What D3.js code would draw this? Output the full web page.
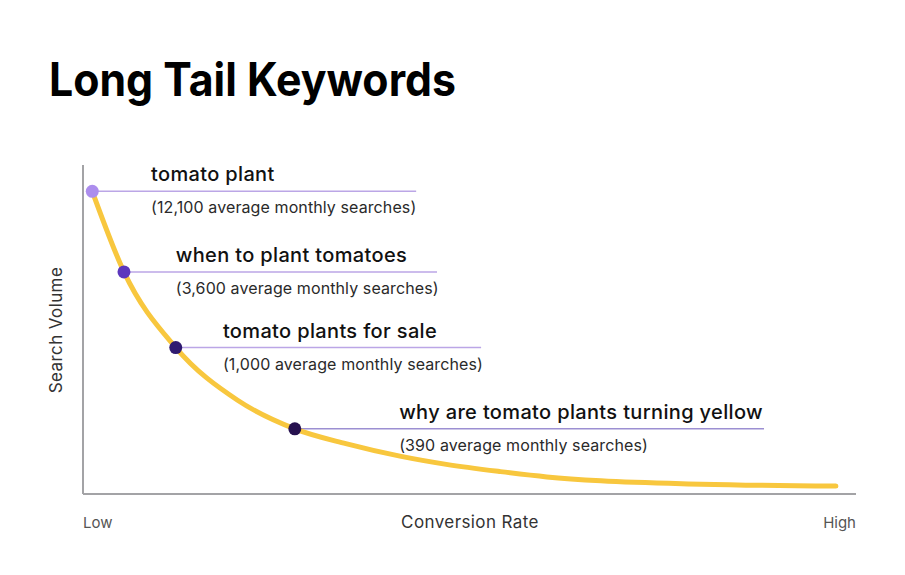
<!DOCTYPE html>
<html>
<head>
<meta charset="utf-8">
<script src="https://cdn.jsdelivr.net/npm/d3@7"></script>
<style>
  body { margin: 0; background: #fff; }
  svg { display: block; font-family: Inter, "Noto Sans", sans-serif; }
</style>
</head>
<body>
<svg id="chart" width="905" height="575"></svg>
<script>
// curve: conversion rate (0-100) vs relative search volume (0-100)
const curveRate = [1.2, 5.3, 12, 20, 27.4, 34, 41, 47, 54, 60, 67, 80, 97.4]
const curveVolume = [92, 67.5, 44.5, 28.5, 19.8, 15.3, 11.5, 9.0, 6.8, 5.2, 4.0, 3.0, 2.4]

// the four highlighted keywords
const keywords = ['tomato plant', 'when to plant tomatoes', 'tomato plants for sale', 'why are tomato plants turning yellow']
const searches = ['12,100', '3,600', '1,000', '390']
const kwRate = [1.2, 5.3, 12, 27.4]
const kwVolume = [92, 67.5, 44.5, 19.8]
const labelStart = [8.8, 12.0, 18.1, 40.9]
const lineEnd = [43.1, 45.8, 51.5, 88.1]
const dotColors = ['#ac8ded', '#5c37bd', '#2f1a70', '#26114f']

const svg = d3.select('#chart')

const xScale = d3.scaleLinear().domain([0, 100]).range([83, 856])
const yScale = d3.scaleLinear().domain([0, 100]).range([494, 165])

// title
svg.append('text').attr('x', 49).attr('y', 96)
    .attr('textLength', 407).attr('lengthAdjust', 'spacingAndGlyphs')
    .style('font-size', '46px').style('font-weight', 700).style('fill', '#000')
    .text('Long Tail Keywords')

// axes (no ticks, just the two lines)
const g = svg.append('g')
g.append('line').attr('x1', xScale(0)).attr('x2', xScale(0)).attr('y1', yScale(100)).attr('y2', yScale(0))
    .style('stroke', '#a3a3a6').style('stroke-width', 2)
g.append('line').attr('x1', xScale(0)).attr('x2', xScale(100)).attr('y1', yScale(0)).attr('y2', yScale(0))
    .style('stroke', '#a3a3a6').style('stroke-width', 2)

svg.append('text').attr('x', xScale(0)).attr('y', 528)
    .style('font-size', '15px').style('fill', '#555').text('Low')
svg.append('text').attr('x', xScale(100)).attr('y', 528).attr('text-anchor', 'end')
    .style('font-size', '15px').style('fill', '#555').text('High')
svg.append('text').attr('x', 470).attr('y', 528).attr('text-anchor', 'middle')
    .style('font-size', '17px').style('letter-spacing', '0.4px').style('fill', '#333').text('Conversion Rate')
svg.append('text').attr('transform', 'translate(62,330) rotate(-90)').attr('text-anchor', 'middle')
    .style('font-size', '17px').style('letter-spacing', '0.4px').style('fill', '#333').text('Search Volume')

// leader lines
g.selectAll('.leader').data(keywords).enter().append('line')
    .attr('class', 'leader')
    .attr('x1', (d, i) => xScale(kwRate[i])).attr('x2', (d, i) => xScale(lineEnd[i]))
    .attr('y1', (d, i) => yScale(kwVolume[i])).attr('y2', (d, i) => yScale(kwVolume[i]))
    .style('stroke', (d, i) => i == 3 ? '#9c8fd2' : '#bba6e6').style('stroke-width', 1.5)

// the long tail curve
const line = d3.line().x(d => xScale(d[0])).y(d => yScale(d[1])).curve(d3.curveMonotoneX)
g.append('path').datum(d3.zip(curveRate, curveVolume))
    .attr('d', line)
    .style('fill', 'none').style('stroke', '#f8c73e').style('stroke-width', 5).style('stroke-linecap', 'round')

// dots
g.selectAll('.dot').data(keywords).enter().append('circle')
    .attr('class', 'dot').attr('r', 6.5)
    .attr('cx', (d, i) => xScale(kwRate[i])).attr('cy', (d, i) => yScale(kwVolume[i]))
    .style('fill', (d, i) => dotColors[i])

// keyword labels
g.selectAll('.kw').data(keywords).enter().append('text')
    .attr('class', 'kw')
    .attr('x', (d, i) => xScale(labelStart[i])).attr('y', (d, i) => yScale(kwVolume[i]) - 10)
    .style('font-size', '20px').style('letter-spacing', '0.35px').style('font-weight', 500).style('fill', '#111')
    .text(d => d)
g.selectAll('.sub').data(searches).enter().append('text')
    .attr('class', 'sub')
    .attr('x', (d, i) => xScale(labelStart[i])).attr('y', (d, i) => yScale(kwVolume[i]) + 22)
    .style('font-size', '16px').style('letter-spacing', '0.1px').style('fill', '#2a2a2a')
    .text(d => '(' + d + ' average monthly searches)')
</script>
</body>
</html>
